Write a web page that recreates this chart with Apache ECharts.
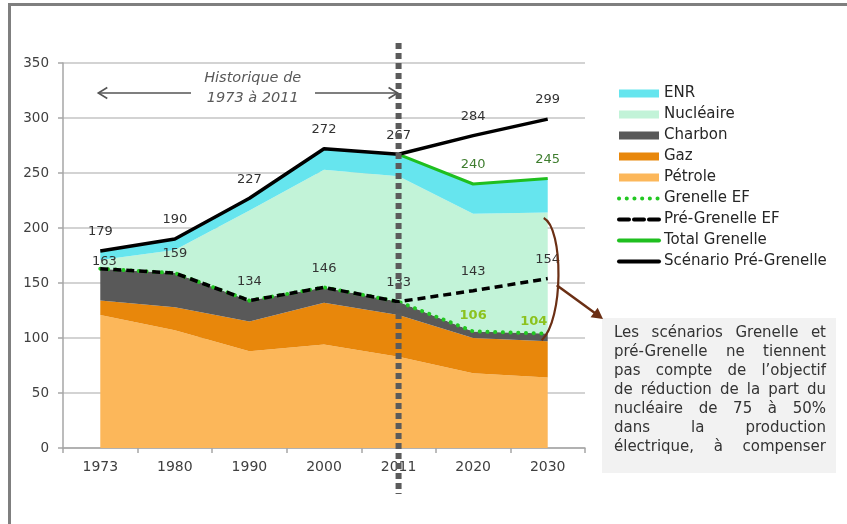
<!DOCTYPE html>
<html>
<head>
<meta charset="utf-8">
<script src="https://cdn.jsdelivr.net/npm/echarts@6/dist/echarts.min.js"></script>
<style>
  html, body { margin: 0; padding: 0; background: #fff; }
  #chart { width: 847px; height: 524px; }
</style>
</head>
<body>
<div id="chart"></div>
<script>
// Production d'énergie primaire par source (Mtep), historique et scénarios
const years = ['1973', '1980', '1990', '2000', '2011', '2020', '2030'];

// Stacked sources (each value is the thickness of its band)
const petrole   = [121, 107, 88, 94, 83, 68, 64];
const gaz       = [13, 21, 27, 38, 38, 32, 33];
const charbon   = [29, 31, 19, 14, 12, 6, 7];
const nucleaire = [8, 21, 82, 107, 114, 107, 110];
const enr       = [8, 10, 11, 19, 20, 27, 31];

// Scenario lines
const grenelleEF          = [163, 159, 134, 146, 133, 106, 104];
const preGrenelleEF       = [163, 159, 134, 146, 133, 143, 154];
const totalGrenelle       = [null, null, null, null, 267, 240, 245];
const scenarioPreGrenelle = [179, 190, 227, 272, 267, 284, 299];

// Which points carry a value label
const grenelleEFLabelFrom = 5;
const totalGrenelleLabelFrom = 5;

const yMin = 0, yMax = 350, yStep = 50;

const noteLines = [
  'Les scénarios Grenelle et',
  'pré-Grenelle ne tiennent',
  'pas compte de l\u2019objectif',
  'de réduction de la part du',
  'nucléaire de 75 à 50%',
  'dans la production',
  'électrique, à compenser'
];
const historyLines = ['Historique de', '1973 à 2011'];

const FONT = '"DejaVu Sans", sans-serif';
const C = {
  enr: '#66e5ee', nucl: '#c2f3d8', charbon: '#595959', gaz: '#e8870b', petrole: '#fcb75a',
  green: '#1fbf1f', greenDots: '#22c822', greenLabel: '#3e7d2e', limeLabel: '#8cc21e',
  black: '#000000', text: '#404040', label: '#333333', brown: '#6b2f14'
};

const chart = echarts.init(document.getElementById('chart'), null, { renderer: 'canvas' });

function areaSeries(name, data, color) {
  return {
    name, type: 'line', stack: 'mix', data, color,
    symbol: 'none', z: 1,
    lineStyle: { width: 0, color },
    areaStyle: { color, opacity: 1 },
    emphasis: { disabled: true }, silent: true
  };
}

function lineSeries(name, data, color, lineStyle, z) {
  return {
    name, type: 'line', data, color, symbol: 'none', z,
    lineStyle: Object.assign({ color }, lineStyle),
    emphasis: { disabled: true }, silent: true
  };
}

// transparent points that only carry the value labels
function labelSeries(data, color, extra, layout) {
  return {
    type: 'scatter', data, symbol: 'circle', symbolSize: 1, z: 8,
    itemStyle: { color: 'rgba(0,0,0,0)', opacity: 1 }, silent: true, emphasis: { disabled: true },
    label: Object.assign({
      show: true, position: 'top', distance: 12, fontSize: 13, fontFamily: FONT, color,
      formatter: p => String(p.value)
    }, extra || {}),
    labelLayout: layout
  };
}

const legendLine = (name, color, width, type) => ({
  name, icon: 'line',
  itemStyle: { color, borderColor: color, borderWidth: width, borderType: type, borderCap: 'round' }
});
const legendRect = (name, color) => ({ name, icon: 'rect', itemStyle: { color, borderWidth: 0 } });

const option = {
  animation: false,
  textStyle: { fontFamily: FONT },
  grid: { left: 63, right: 262, top: 63, bottom: 76, containLabel: false },
  xAxis: {
    type: 'category', data: years, boundaryGap: true,
    axisLine: { lineStyle: { color: '#a6a6a6', width: 1.5 } },
    axisTick: { show: true, length: 5, lineStyle: { color: '#a6a6a6', width: 1.5 } },
    axisLabel: { color: C.text, fontSize: 14, margin: 12, fontFamily: FONT },
    splitLine: { show: false }
  },
  yAxis: {
    type: 'value', min: yMin, max: yMax, interval: yStep,
    axisLine: { show: true, lineStyle: { color: '#a6a6a6', width: 1.5 } },
    axisTick: { show: true, length: 5, lineStyle: { color: '#a6a6a6', width: 1.5 } },
    axisLabel: { color: C.text, fontSize: 13.5, margin: 14, fontFamily: FONT },
    splitLine: { lineStyle: { color: '#c4c4c4', width: 1.5 } }
  },
  legend: {
    orient: 'vertical', left: 612, top: 81,
    itemWidth: 40, itemHeight: 8, itemGap: 6,
    textStyle: { fontSize: 15, color: '#262626', fontFamily: FONT, lineHeight: 14.5 },
    selectedMode: false,
    data: [
      legendRect('ENR', C.enr),
      legendRect('Nucléaire', C.nucl),
      legendRect('Charbon', C.charbon),
      legendRect('Gaz', C.gaz),
      legendRect('Pétrole', C.petrole),
      legendLine('Grenelle EF', C.greenDots, 4, [0.1, 7.6]),
      legendLine('Pré-Grenelle EF', C.black, 4, [10, 5]),
      legendLine('Total Grenelle', C.green, 4, 'solid'),
      legendLine('Scénario Pré-Grenelle', C.black, 4, 'solid')
    ]
  },
  series: [
    areaSeries('Pétrole', petrole, C.petrole),
    areaSeries('Gaz', gaz, C.gaz),
    areaSeries('Charbon', charbon, C.charbon),
    areaSeries('Nucléaire', nucleaire, C.nucl),
    areaSeries('ENR', enr, C.enr),
    lineSeries('Grenelle EF', grenelleEF, C.greenDots, { width: 4, type: [0.1, 7.6], cap: 'round' }, 3),
    lineSeries('Pré-Grenelle EF', preGrenelleEF, C.black, { width: 3.5, type: [8, 5] }, 4),
    lineSeries('Total Grenelle', totalGrenelle, C.green, { width: 3 }, 5),
    lineSeries('Scénario Pré-Grenelle', scenarioPreGrenelle, C.black, { width: 3.5 }, 5),

    labelSeries(grenelleEF.map((v, i) => (i >= grenelleEFLabelFrom ? v : null)), C.limeLabel,
      { fontWeight: 'bold' },
      p => (p.dataIndex === 6 ? { dx: -14, dy: 7 } : { dy: 3 })),
    labelSeries(preGrenelleEF, C.label, null,
      p => (p.dataIndex === 0 ? { dx: 4, dy: 12 } : {})),
    labelSeries(totalGrenelle.map((v, i) => (i >= totalGrenelleLabelFrom ? v : null)), C.greenLabel),
    labelSeries(scenarioPreGrenelle, C.label)
  ]
};

chart.setOption(option);

// ---- annotations anchored on the axes ----
const px = (i, v) => chart.convertToPixel({ xAxisIndex: 0, yAxisIndex: 0 }, [i, v]);
const graphics = [];

// slide frame
graphics.push({
  type: 'rect', silent: true, z: 0,
  shape: { x: 9.5, y: 4.5, width: 900, height: 600 },
  style: { fill: 'none', stroke: '#7f7f7f', lineWidth: 3 }
});

// vertical separator at 2011
const x2011 = px(4, 0)[0];
graphics.push({
  type: 'line', silent: true, z: 100,
  shape: { x1: x2011, y1: 43, x2: x2011, y2: 494 },
  style: { stroke: '#5b5b5b', lineWidth: 6, lineDash: [6, 4] }
});

// "Historique" caption with arrows
const xStart = px(0, 0)[0];
const capY = 93;
const capX = (px(2, 0)[0] + px(3, 0)[0]) / 2 - 34;
historyLines.forEach((t, i) => {
  graphics.push({
    type: 'text', silent: true, z: 20,
    style: {
      text: t, x: capX, y: 78 + i * 20, align: 'center', verticalAlign: 'middle',
      font: 'italic 14.5px ' + FONT, fill: '#595959'
    }
  });
});
function chevron(tipX, tipY, dir) {
  return {
    type: 'polyline', silent: true, z: 20,
    shape: { points: [[tipX - dir * 9, tipY - 5.5], [tipX, tipY], [tipX - dir * 9, tipY + 5.5]] },
    style: { stroke: '#555', lineWidth: 1.6, fill: 'none' }
  };
}
graphics.push({ type: 'line', silent: true, z: 20, shape: { x1: xStart - 2, y1: capY, x2: 191, y2: capY }, style: { stroke: '#555', lineWidth: 1.6 } });
graphics.push(chevron(xStart - 2, capY, -1));
graphics.push({ type: 'line', silent: true, z: 20, shape: { x1: 315, y1: capY, x2: x2011 - 1, y2: capY }, style: { stroke: '#555', lineWidth: 1.6 } });
graphics.push(chevron(x2011 - 1, capY, 1));

// brace on the 2030 nuclear band + arrow to the note
const last = years.length - 1;
const bTop = px(last, 209);
const bBot = px(last, 98);
const bx = bTop[0];
graphics.push({
  type: 'bezierCurve', silent: true, z: 30,
  shape: { x1: bx - 4, y1: bTop[1], cpx1: bx + 16, cpy1: bTop[1] + 10, cpx2: bx + 16, cpy2: bBot[1] - 20, x2: bx - 6, y2: bBot[1] },
  style: { stroke: C.brown, lineWidth: 2.2, fill: 'none' }
});
const a0 = [bx + 9, px(last, 148)[1]];
const a1 = [603, 319];
const dx = a1[0] - a0[0], dy = a1[1] - a0[1];
const len = Math.hypot(dx, dy), ux = dx / len, uy = dy / len;
const hl = 11, hw = 6;
graphics.push({
  type: 'line', silent: true, z: 30,
  shape: { x1: a0[0], y1: a0[1], x2: a1[0] - ux * hl * 0.8, y2: a1[1] - uy * hl * 0.8 },
  style: { stroke: C.brown, lineWidth: 2.5 }
});
graphics.push({
  type: 'polygon', silent: true, z: 30,
  shape: { points: [a1, [a1[0] - ux * hl - uy * hw, a1[1] - uy * hl + ux * hw], [a1[0] - ux * hl + uy * hw, a1[1] - uy * hl - ux * hw]] },
  style: { fill: C.brown }
});

// note box with justified text
const box = { x: 602, y: 318, w: 234, h: 155 };
graphics.push({
  type: 'rect', silent: true, z: 10,
  shape: { x: box.x, y: box.y, width: box.w, height: box.h },
  style: { fill: '#f2f2f2' }
});
const textLeft = 614, textRight = 826, lineTop = 333, linePitch = 19;
const ctx = document.createElement('canvas').getContext('2d');
let noteSize = 15;
const fontOf = s => s + 'px ' + FONT;
function lineNatural(line, s) {
  ctx.font = fontOf(s);
  const words = line.split(' ');
  return words.reduce((a, w) => a + ctx.measureText(w).width, 0) + (words.length - 1) * ctx.measureText(' ').width;
}
while (noteSize > 10 && noteLines.some(l => lineNatural(l, noteSize) > textRight - textLeft)) noteSize -= 0.25;
ctx.font = fontOf(noteSize);
noteLines.forEach((line, li) => {
  const words = line.split(' ');
  const widths = words.map(w => ctx.measureText(w).width);
  const total = widths.reduce((a, b) => a + b, 0);
  const gap = words.length > 1 ? (textRight - textLeft - total) / (words.length - 1) : 0;
  let x = textLeft;
  words.forEach((w, wi) => {
    graphics.push({
      type: 'text', silent: true, z: 11,
      style: { text: w, x, y: lineTop + li * linePitch, verticalAlign: 'middle', align: 'left', font: fontOf(noteSize), fill: '#333333' }
    });
    x += widths[wi] + gap;
  });
});

chart.setOption({ graphic: graphics });
</script>
</body>
</html>
